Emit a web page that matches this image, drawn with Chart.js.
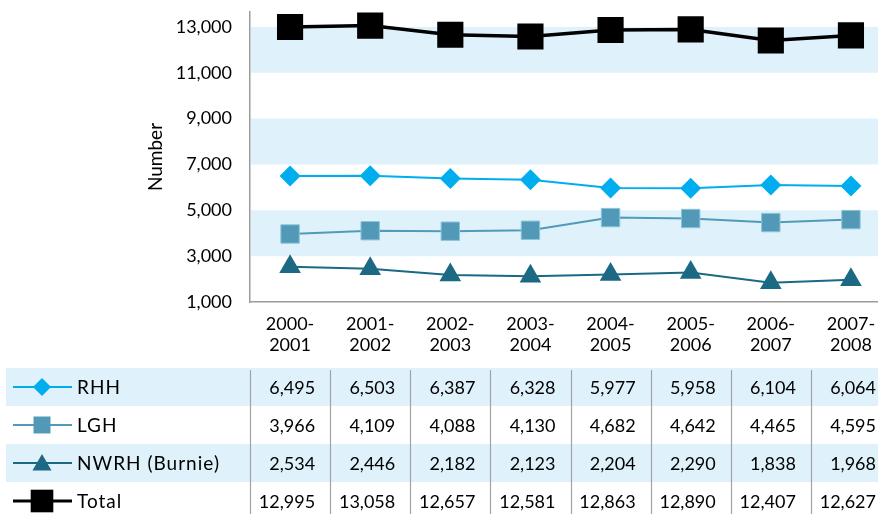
<!DOCTYPE html>
<html>
<head>
<meta charset="utf-8">
<script src="https://cdn.jsdelivr.net/npm/chart.js@4"></script>
<style>
  html, body { margin: 0; padding: 0; background: #fff; width: 878px; height: 514px; overflow: hidden; }
  #wrap { width: 891px; height: 514px; }
</style>
</head>
<body>
<div id="wrap"><canvas id="chart" width="891" height="514"></canvas></div>
<script>
// Financial years shown on the x axis
const categories = ['2000-2001', '2001-2002', '2002-2003', '2003-2004', '2004-2005', '2005-2006', '2006-2007', '2007-2008'];

// Yearly counts per hospital
const rhh   = [6495, 6503, 6387, 6328, 5977, 5958, 6104, 6064];
const lgh   = [3966, 4109, 4088, 4130, 4682, 4642, 4465, 4595];
const nwrh  = [2534, 2446, 2182, 2123, 2204, 2290, 1838, 1968];
const total = [12995, 13058, 12657, 12581, 12863, 12890, 12407, 12627];

// Y axis tick values
const yTicks = [1000, 3000, 5000, 7000, 9000, 11000, 13000];

const FONT = 'Lato, "Open Sans", "DejaVu Sans", sans-serif';
const BAND = '#dff1fa';

// Marker path used both on the plot and in the table key
function drawMarker(ctx, style, x, y, r, fill, stroke) {
  ctx.save();
  ctx.fillStyle = fill;
  ctx.beginPath();
  if (style === 'rectRot') {
    ctx.moveTo(x - r, y); ctx.lineTo(x, y - r); ctx.lineTo(x + r, y); ctx.lineTo(x, y + r);
  } else if (style === 'rect') {
    const s = r * Math.SQRT1_2;
    ctx.rect(x - s, y - s, 2 * s, 2 * s);
  } else if (style === 'triangle') {
    ctx.moveTo(x, y - r);
    ctx.lineTo(x + r * 0.866, y + r * 0.5);
    ctx.lineTo(x - r * 0.866, y + r * 0.5);
  }
  ctx.closePath();
  ctx.fill();
  if (stroke) { ctx.strokeStyle = stroke; ctx.lineWidth = 1; ctx.stroke(); }
  ctx.restore();
}

// Alternating light-blue bands behind the plot
const bandPlugin = {
  id: 'bands',
  beforeDatasetsDraw(chart) {
    const { ctx, chartArea, scales: { y } } = chart;
    const vals = y.ticks.map(t => t.value);
    ctx.save();
    ctx.fillStyle = BAND;
    for (let i = 1; i + 1 < vals.length; i += 2) {
      const top = y.getPixelForValue(vals[i + 1]);
      const bot = y.getPixelForValue(vals[i]);
      ctx.fillRect(chartArea.left + 1, top, chartArea.right - chartArea.left, bot - top);
    }
    ctx.restore();
  }
};

// Data table under the plot, one row per series
const tablePlugin = {
  id: 'dataTable',
  afterDraw(chart) {
    const { ctx, scales: { x } } = chart;
    const W = chart.width, H = chart.height;
    const half = (x.getPixelForValue(1) - x.getPixelForValue(0)) / 2;
    const rowTop = 368, rowH = 38;
    ctx.save();
    chart.data.datasets.forEach((ds, r) => {
      const top = rowTop + r * rowH;
      const cy = top + rowH / 2;
      if (r % 2 === 0) {
        ctx.fillStyle = BAND;
        ctx.fillRect(6, top, W - 6, rowH);
      }
      // key: line with marker
      ctx.strokeStyle = ds.borderColor;
      ctx.lineWidth = ds.keyLine;
      ctx.beginPath(); ctx.moveTo(13, cy); ctx.lineTo(72, cy); ctx.stroke();
      drawMarker(ctx, ds.pointStyle, 42, cy + (ds.pointStyle === 'triangle' ? 2 : 0), ds.keyRadius, ds.pointBackgroundColor, null);
      ctx.fillStyle = '#000';
      ctx.textBaseline = 'middle';
      ctx.textAlign = 'left';
      ctx.font = '19px ' + FONT;
      ctx.letterSpacing = '1px';
      ctx.fillText(ds.label, 77, cy + 1);
      ctx.letterSpacing = '0px';
      ctx.font = '18px ' + FONT;
      ctx.textAlign = 'right';
      ds.data.forEach((v, i) => {
        ctx.fillText(v.toLocaleString('en-US'), x.getPixelForValue(i) + half - 15, cy + 1);
      });
    });
    // column dividers
    ctx.strokeStyle = '#a3a3a3';
    ctx.lineWidth = 1.2;
    for (let i = 0; i <= categories.length; i++) {
      const xe = Math.round(x.getPixelForValue(0) - half + i * 2 * half) + 0.5;
      ctx.beginPath(); ctx.moveTo(xe, 370); ctx.lineTo(xe, H); ctx.stroke();
    }
    ctx.restore();
  }
};

new Chart(document.getElementById('chart'), {
  type: 'line',
  data: {
    labels: categories,
    datasets: [
      { label: 'RHH', data: rhh, borderColor: '#00aeef', backgroundColor: '#00aeef',
        pointBackgroundColor: '#00aeef', pointBorderColor: '#00aeef', borderWidth: 2,
        pointStyle: 'rectRot', pointRadius: 10.5, pointBorderWidth: 0, keyRadius: 9, keyLine: 2 },
      { label: 'LGH', data: lgh, borderColor: '#4f9bb9', backgroundColor: '#4f9bb9',
        pointBackgroundColor: '#5199b7', pointBorderColor: '#8cc3da', borderWidth: 2,
        pointStyle: 'rect', pointRadius: 13, pointBorderWidth: 1, keyRadius: 12, keyLine: 2 },
      { label: 'NWRH (Burnie)', data: nwrh, borderColor: '#1c6984', backgroundColor: '#1c6984',
        pointBackgroundColor: '#1c6984', pointBorderColor: '#1c6984', borderWidth: 2,
        pointStyle: 'triangle', pointRadius: 12.5, pointBorderWidth: 0, keyRadius: 11, keyLine: 2 },
      { label: 'Total', data: total, borderColor: '#000', backgroundColor: '#000',
        pointBackgroundColor: '#000', pointBorderColor: '#000', borderWidth: 3.5,
        pointStyle: 'rect', pointRadius: 18.5, pointBorderWidth: 0, keyRadius: 16, keyLine: 3 }
    ]
  },
  options: {
    responsive: false,
    animation: false,
    devicePixelRatio: 1,
    layout: { autoPadding: false, padding: { left: 140, top: 12, right: 0, bottom: 0 } },
    plugins: { legend: { display: false }, tooltip: { enabled: false } },
    elements: { line: { tension: 0 } },
    scales: {
      x: {
        offset: true,
        grid: { color: 'rgba(0,0,0,0)', drawTicks: false },
        border: { display: true, color: '#9c9c9c', width: 1.5 },
        ticks: {
          color: '#000', font: { family: FONT, size: 18 }, padding: 11, maxRotation: 0,
          callback(v, i) { const s = categories[i]; const k = s.indexOf('-'); return [s.slice(0, k + 1), s.slice(k + 1)]; }
        },
        afterFit(scale) { scale.height = 212; scale.paddingLeft = 0; scale.paddingRight = 0; }
      },
      y: {
        min: 1000, max: 13650,
        grid: { color: 'rgba(0,0,0,0)', drawTicks: false },
        border: { display: true, color: '#9c9c9c', width: 1.5 },
        ticks: {
          color: '#000', font: { family: FONT, size: 18 }, padding: 18,
          callback: v => v.toLocaleString('en-US')
        },
        afterBuildTicks(scale) { scale.ticks = yTicks.map(v => ({ value: v })); },
        title: { display: true, text: 'Number', color: '#000', font: { family: FONT, size: 19 }, padding: { top: 4, bottom: 0 } },
        afterFit(scale) { scale.width = 110; scale.paddingTop = 0; scale.paddingBottom = 0; }
      }
    }
  },
  plugins: [bandPlugin, tablePlugin]
});
</script>
</body>
</html>
